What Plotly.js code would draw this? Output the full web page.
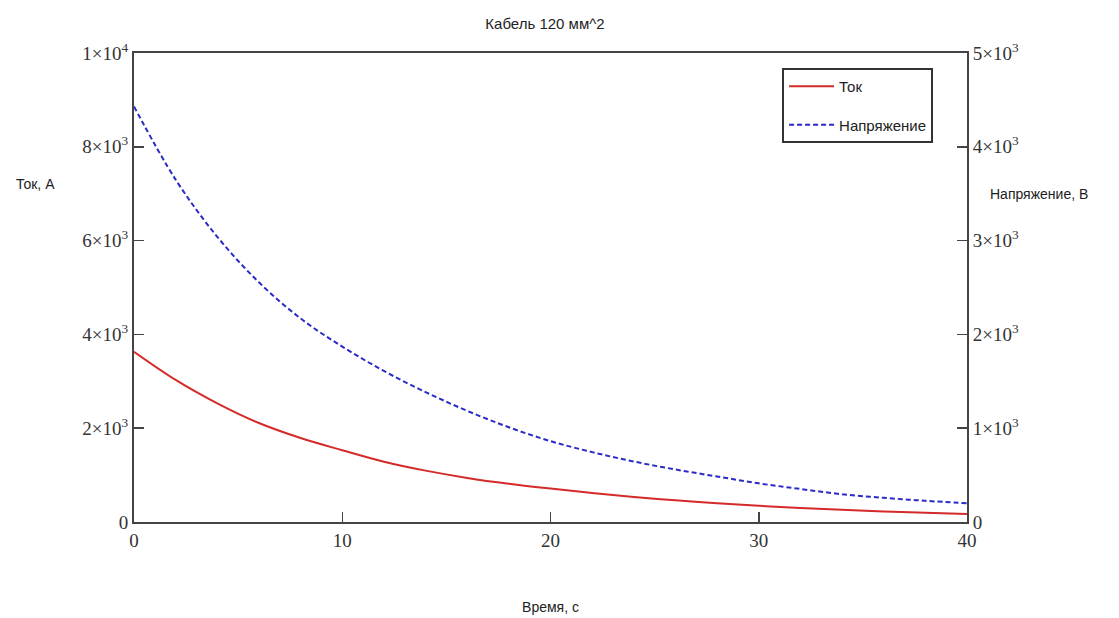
<!DOCTYPE html>
<html>
<head>
<meta charset="utf-8">
<script src="https://cdn.plot.ly/plotly-3.0.1.min.js"></script>
<style>html,body{margin:0;padding:0;background:#fff;}#chart{width:1119px;height:618px;}</style>
</head>
<body>
<div id="chart"></div>
<script>
const time = [0, 2, 4, 6, 8, 10, 12, 14, 16, 18, 20, 22, 24, 26, 28, 30, 32, 34, 36, 38, 40];
const current = [3630, 3030, 2530, 2110, 1790, 1530, 1285, 1095, 940, 815, 712, 620, 535, 462, 400, 345, 300, 260, 225, 195, 170];
const voltage = [4430, 3650, 3040, 2555, 2170, 1870, 1610, 1385, 1185, 1010, 862, 745, 645, 560, 485, 412, 352, 296, 258, 226, 200];
const leftTickVals = [0, 2000, 4000, 6000, 8000, 10000];
const leftTickText = ["0", "2×10<sup>3</sup>", "4×10<sup>3</sup>", "6×10<sup>3</sup>", "8×10<sup>3</sup>", "1×10<sup>4</sup>"];
const rightTickVals = [0, 1000, 2000, 3000, 4000, 5000];
const rightTickText = ["0", "1×10<sup>3</sup>", "2×10<sup>3</sup>", "3×10<sup>3</sup>", "4×10<sup>3</sup>", "5×10<sup>3</sup>"];
const xTickVals = [0, 10, 20, 30, 40];

const axisColor = '#444';
const tickFont = {family: 'Liberation Serif, Times New Roman, serif', size: 19, color: '#333'};
const textFont = {family: 'Liberation Sans, Arial, sans-serif', size: 14, color: '#222'};

const traces = [
  {x: time, y: current, name: 'Ток', type: 'scatter', mode: 'lines', yaxis: 'y', legendgroup: 'a',
   line: {color: '#d42a2a', width: 2, shape: 'spline'}},
  {x: time, y: voltage, name: 'Напряжение', type: 'scatter', mode: 'lines', yaxis: 'y2', legendgroup: 'b',
   line: {color: '#2a2ac8', width: 2, dash: '5px,3px', shape: 'spline'}}
];

const layout = {
  width: 1119, height: 618,
  margin: {l: 134, r: 152, t: 53, b: 96},
  paper_bgcolor: '#fff', plot_bgcolor: '#fff',
  font: textFont,
  title: {text: 'Кабель 120 мм^2', x: 0.487, xanchor: 'center', y: 0.962, yanchor: 'middle',
          font: {family: 'Liberation Sans, Arial, sans-serif', size: 15, color: '#222'}},
  showlegend: true,
  legend: {x: 0.778, y: 0.968, xanchor: 'left', yanchor: 'top', bgcolor: '#fff',
           bordercolor: '#333', borderwidth: 2, traceorder: 'grouped', tracegroupgap: 16,
           itemwidth: 45,
           font: {family: 'Liberation Sans, Arial, sans-serif', size: 15, color: '#222'}},
  xaxis: {range: [0, 40], tickvals: xTickVals, ticks: 'inside', ticklen: 10, tickwidth: 1.5, tickcolor: axisColor,
          showline: true, linecolor: axisColor, linewidth: 2, mirror: true, showgrid: false, zeroline: false,
          tickfont: tickFont,
          title: {text: 'Время, с', standoff: 52, font: textFont}},
  yaxis: {range: [0, 10000], tickvals: leftTickVals, ticktext: leftTickText, ticks: 'inside', ticklen: 10, tickwidth: 1.5,
          tickcolor: axisColor, showline: true, linecolor: axisColor, linewidth: 2, mirror: true,
          showgrid: false, zeroline: false, tickfont: tickFont},
  yaxis2: {range: [0, 5000], overlaying: 'y', side: 'right', tickvals: rightTickVals, ticktext: rightTickText,
           ticks: 'inside', ticklen: 10, tickwidth: 1.5, tickcolor: axisColor, showline: true, linecolor: axisColor,
           linewidth: 2, showgrid: false, zeroline: false, tickfont: tickFont},
  annotations: [
    {text: 'Ток, А', xref: 'paper', yref: 'paper', x: -0.118, y: 0.72, xanchor: 'center', yanchor: 'middle',
     showarrow: false, font: textFont},
    {text: 'Напряжение, В', xref: 'paper', yref: 'paper', x: 1.087, y: 0.70, xanchor: 'center', yanchor: 'middle',
     showarrow: false, font: textFont}
  ]
};

Plotly.newPlot('chart', traces, layout, {displayModeBar: false, staticPlot: true});
</script>
</body>
</html>
